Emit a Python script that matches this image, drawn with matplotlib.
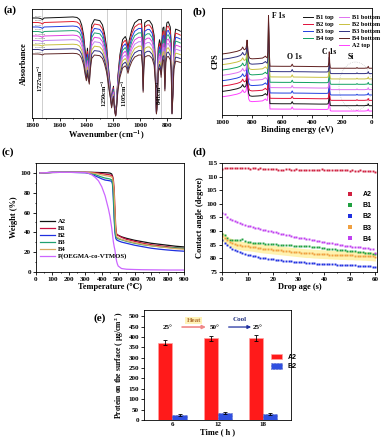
import numpy as np
import matplotlib
matplotlib.use("Agg")
import matplotlib.pyplot as plt
from matplotlib.patches import Ellipse
from matplotlib.lines import Line2D
from matplotlib.ticker import MultipleLocator

plt.rcParams['font.family'] = ['Liberation Serif', 'DejaVu Serif', 'Noto Sans CJK SC']
plt.rcParams['font.weight'] = 'bold'
plt.rcParams['axes.labelweight'] = 'bold'
plt.rcParams['mathtext.fontset'] = 'stix'
plt.rcParams['font.size'] = 5
plt.rcParams['axes.linewidth'] = 0.6
plt.rcParams['xtick.major.width'] = 0.6
plt.rcParams['ytick.major.width'] = 0.6
plt.rcParams['xtick.major.size'] = 2
plt.rcParams['ytick.major.size'] = 2
plt.rcParams['xtick.minor.size'] = 1
plt.rcParams['ytick.minor.size'] = 1
plt.rcParams['xtick.major.pad'] = 1.5
plt.rcParams['ytick.major.pad'] = 1.5

# ---------------- (a) FTIR ----------------
ftir_wn = [1800, 1760, 1740, 1727, 1715, 1600, 1500, 1470, 1450, 1435, 1420, 1410, 1400, 1392,
           1385, 1378, 1370, 1360, 1340, 1300, 1280, 1265, 1250, 1240, 1230, 1220, 1212, 1205,
           1198, 1190, 1182, 1175, 1165, 1150, 1130, 1110, 1100, 1090, 1080, 1060, 1040, 1010,
           990, 982, 977, 972, 965, 945, 930, 910, 895, 885, 878, 872, 865, 855, 848, 843, 838,
           830, 822, 815, 808, 800, 790, 775, 768, 762, 756, 748, 735, 715, 700]
ftir_top = [0.945, 0.945, 0.94, 0.93, 0.945, 0.95, 0.955, 0.95, 0.93, 0.88, 0.78, 0.65, 0.55, 0.66,
            0.56, 0.50, 0.72, 0.88, 0.93, 0.92, 0.88, 0.80, 0.68, 0.55, 0.40, 0.28, 0.15, 0.25,
            0.30, 0.12, 0.03, 0.15, 0.40, 0.60, 0.74, 0.77, 0.74, 0.66, 0.74, 0.84, 0.90, 0.93,
            0.93, 0.75, 0.38, 0.72, 0.90, 0.92, 0.92, 0.88, 0.78, 0.50, 0.06, 0.20, 0.66, 0.74,
            0.70, 0.60, 0.72, 0.85, 0.86, 0.40, 0.82, 0.90, 0.91, 0.86, 0.70, 0.06, 0.30, 0.72,
            0.84, 0.83, 0.82]
ftir_scale = [1.0, 0.955, 0.91, 0.865, 0.82, 0.775, 0.73, 0.685, 0.64]
ftir_colors = ['#111111', '#e02030', '#2040e0', '#20a070', '#e040e0', '#c080f0', '#c8c040', '#303080', '#602828']
ftir_labels = ['B1 top', 'B2 top', 'B3 top', 'B4 top', 'B1 bottom', 'B2 bottom', 'B3 bottom', 'B4 bottom', 'A2 top']
ftir_marks = [1727, 1250, 1105, 841]

# ---------------- (b) XPS ----------------
xps_be = [1000, 950, 900, 880, 870, 862, 855, 848, 840, 836, 833, 830, 826, 822, 815, 800, 760, 730,
          715, 710, 705, 698, 694, 690, 687, 684, 680, 670, 600, 540, 532, 525, 450, 350, 300, 292,
          288, 285, 282, 278, 270, 200, 150, 105, 100, 95, 50, 30, 25, 20, 0]
xps_base = [0.17, 0.18, 0.195, 0.205, 0.215, 0.235, 0.215, 0.21, 0.225, 0.26, 0.30, 0.25, 0.20, 0.15,
            0.13, 0.125, 0.128, 0.132, 0.145, 0.15, 0.14, 0.135, 0.19, 0.53, 0.38, 0.16, 0.056, 0.056,
            0.055, 0.055, 0.075, 0.055, 0.054, 0.052, 0.052, 0.056, 0.09, 0.19, 0.09, 0.04, 0.037,
            0.037, 0.037, 0.037, 0.044, 0.037, 0.037, 0.04, 0.055, 0.037, 0.037]
xps_order = ['A2 top', 'B1 top', 'B2 top', 'B3 top', 'B1 bottom', 'B4 top', 'B2 bottom', 'B3 bottom', 'B4 bottom']
xps_colors = {'B1 top': '#111111', 'B2 top': '#e0103a', 'B3 top': '#2040e0', 'B4 top': '#10a060',
              'B1 bottom': '#e070f0', 'B2 bottom': '#c8c040', 'B3 bottom': '#303080',
              'B4 bottom': '#602020', 'A2 top': '#ff40ff'}
xps_legend = ['B1 top', 'B2 top', 'B3 top', 'B4 top', None, 'B1 bottom', 'B2 bottom', 'B3 bottom', 'B4 bottom', 'A2 top']
xps_step = 0.05

# ---------------- (c) TGA ----------------
tga_T = [25, 100, 200, 300, 320, 340, 360, 380, 400, 420, 440, 450, 460, 465, 470, 475, 480, 485, 490,
         495, 500, 520, 550, 600, 650, 700, 750, 800, 850, 900]
tga = {
    'A2': [100, 100.5, 100.6, 100.6, 100.6, 100.6, 100.5, 100.4, 100.3, 100.2, 100.0, 99.8, 99.0, 97, 90,
           75, 55, 42, 38, 37.5, 37, 35.5, 34, 32, 30.5, 29, 28, 27, 26, 25.3],
    'B1': [100, 100.5, 100.6, 100.6, 100.5, 100.4, 100.2, 99.8, 99.3, 98.8, 98.3, 98.0, 97.5, 96.5, 94,
           85, 65, 45, 38.5, 37.5, 37, 35, 33, 31, 29, 27.5, 26.5, 25.5, 24.5, 24],
    'B2': [100, 100.5, 100.6, 100.2, 99.5, 98.5, 97, 95.5, 94, 92.8, 92.3, 92.0, 91.5, 89, 75, 55, 40,
           34, 32.5, 32, 31.5, 30.2, 29, 27, 25.5, 24, 23, 22.2, 21.5, 21],
    'B3': [100, 100.5, 100.6, 100.4, 100.0, 99.3, 98.3, 97, 95.8, 94.8, 94.2, 93.8, 93.0, 90, 80, 58,
           42, 36, 34.5, 34, 33.5, 32.5, 31, 29, 27.5, 26.5, 25.5, 24.8, 24.3, 24],
    'B4': [100, 100.5, 100.6, 100.5, 100.3, 100.0, 99.5, 98.8, 98.0, 97.3, 96.8, 96.4, 96, 95, 91, 80,
           60, 42, 36, 35, 34.5, 33, 31.5, 29.5, 28, 26.5, 25.5, 24.5, 23.5, 23],
    'P(OEGMA-co-VTMOS)': [100, 100.5, 100.6, 100.3, 99.7, 98.0, 95.5, 92, 86, 77, 64, 56, 45, 38, 31,
                          26, 22, 16, 11, 8, 6, 3.5, 2.8, 2.5, 2.3, 2.2, 2.1, 2.0, 2.0, 2.0],
}
tga_colors = {'A2': '#111111', 'B1': '#c81040', 'B2': '#2030e0', 'B3': '#20a070', 'B4': '#d8a860',
              'P(OEGMA-co-VTMOS)': '#cc66ff'}

# ---------------- (d) contact angle ----------------
ca = {
    'A2': [112.8, 113.0, 113.1, 113.3, 113.3, 113.2, 113.2, 113.0, 113.1, 113.0, 113.0, 112.9, 113.0,
           113.0, 112.9, 113.0, 112.9, 112.9, 112.8, 112.9, 112.8, 112.7, 112.5, 112.3, 112.6, 112.7,
           112.8, 112.6, 112.5, 112.7, 112.6, 112.5, 112.6, 112.6, 112.5, 112.6, 112.6, 112.4, 112.5,
           112.7, 112.6, 112.5, 112.3, 112.5, 112.4, 112.4, 112.3, 112.5, 112.3, 112.3, 112.1, 112.3,
           112.2, 112.2, 112.3, 112.1, 112.0, 112.1, 112.0, 111.9, 111.8],
    'B1': [89.0, 88.7, 87.3, 86.8, 86.6, 86.9, 86.8, 86.9, 87.0, 86.4, 86.0, 85.9, 85.8, 85.7, 85.6,
           85.5, 85.5, 85.4, 85.3, 85.3, 85.2, 85.1, 85.0, 85.0, 84.9, 84.9, 84.8, 84.8, 84.7, 84.6,
           84.5, 84.5, 84.4, 84.4, 84.4, 84.3, 84.2, 84.1, 84.0, 83.9, 83.8, 83.6, 83.4, 83.3, 83.3,
           83.2, 83.1, 83.0, 82.9, 82.8, 82.8, 82.7, 82.6, 82.5, 82.3, 82.2, 82.0, 81.9, 81.8, 81.6, 81.5],
    'B2': [86.8, 85.8, 84.8, 84.0, 83.4, 83.0, 82.6, 82.3, 82.0, 81.7, 81.4, 81.1, 80.9, 80.7, 80.5,
           80.3, 80.1, 80.0, 79.8, 79.7, 79.6, 79.5, 79.4, 79.3, 79.2, 79.1, 79.0, 78.9, 78.8, 78.7,
           78.6, 78.5, 78.5, 78.4, 78.3, 78.3, 78.2, 78.1, 78.1, 78.0, 78.0, 77.9, 77.9, 77.8, 77.8,
           77.7, 77.7, 77.6, 77.6, 77.5, 77.5, 77.4, 77.4, 77.3, 77.3, 77.2, 77.2, 77.1, 77.1, 77.0, 77.0],
    'B3': [88.2, 87.4, 86.6, 86.0, 85.6, 85.3, 85.0, 84.8, 84.6, 84.5, 84.4, 84.3, 84.2, 84.0, 83.9,
           83.7, 83.6, 83.5, 83.4, 83.3, 83.2, 83.1, 83.0, 82.9, 82.8, 82.7, 82.6, 82.5, 82.4, 82.3,
           82.2, 82.1, 82.0, 81.9, 81.9, 81.8, 81.7, 81.7, 81.6, 81.6, 81.5, 81.5, 81.4, 81.4, 81.3,
           81.3, 81.2, 81.2, 81.2, 81.1, 81.1, 81.1, 81.0, 81.0, 81.0, 80.9, 80.9, 80.8, 80.8, 80.7, 80.6],
    'B4': [96.8, 96.2, 95.2, 94.5, 94.0, 93.6, 93.3, 93.0, 92.6, 92.3, 92.0, 91.8, 91.5, 91.3, 91.0,
           90.7, 90.5, 90.3, 90.1, 89.9, 89.7, 89.5, 89.3, 89.1, 88.9, 88.7, 88.5, 88.3, 88.0, 87.8,
           87.6, 87.5, 87.4, 87.2, 87.0, 86.9, 86.7, 86.5, 86.3, 86.1, 86.0, 85.8, 85.6, 85.5, 85.3,
           85.1, 85.0, 84.9, 84.7, 84.5, 84.4, 84.3, 84.2, 84.1, 84.0, 83.9, 83.8, 83.7, 83.6, 83.3, 81.8],
}
ca_colors = {'A2': '#d02040', 'B1': '#20a040', 'B2': '#2030e0', 'B3': '#f0a040', 'B4': '#c040f0'}
ca_b3_sd = 1.6

# ---------------- (e) protein ----------------
prot_time = ['6', '12', '18']
prot_A2 = [372, 393, 397]
prot_A2_err = [12, 12, 14]
prot_B2 = [22, 32, 30]
prot_B2_err = [5, 5, 5]

W, H = 381, 438
fig = plt.figure(figsize=(W / 100, H / 100), dpi=100)


def rect(l, t, r, b):
    return [l / W, 1 - b / H, (r - l) / W, (b - t) / H]


# ---- (a)
ax = fig.add_axes(rect(32, 9, 181, 118))
for s, c, lab in zip(ftir_scale, ftir_colors, ftir_labels):
    ax.plot(ftir_wn, np.array(ftir_top) * s, color=c, lw=0.7)
    ax.text(1785, ftir_top[0] * s + 0.012, lab, fontsize=1.6, color='#888888', va='bottom')
for wn in ftir_marks:
    ax.axvline(wn, color='#bbbbbb', lw=0.5, zorder=0)
ax.text(1745, 0.38, r'1727cm$^{-1}$', rotation=90, fontsize=4.5, ha='center', va='center')
ax.text(1268, 0.24, r'1250cm$^{-1}$', rotation=90, fontsize=4.5, ha='center', va='center')
ax.text(1120, 0.24, r'1105cm$^{-1}$', rotation=90, fontsize=4.5, ha='center', va='center')
ax.text(855, 0.24, r'841cm$^{-1}$', rotation=90, fontsize=4.5, ha='center', va='center')
ax.set_xlim(1805, 695)
ax.set_ylim(0, 1.03)
ax.set_yticks([])
ax.set_xticks([1800, 1600, 1400, 1200, 1000, 800])
ax.xaxis.set_minor_locator(MultipleLocator(100))
ax.set_xlabel(r'Wavenumber (cm$^{-1}$)', fontsize=6, labelpad=1)
ax.set_ylabel('Absorbance', fontsize=6, labelpad=3)

# ---- (b)
ax = fig.add_axes(rect(222, 8, 372, 115))
handles = {}
for i, name in enumerate(xps_order):
    h, = ax.plot(xps_be, np.array(xps_base) + i * xps_step, color=xps_colors[name], lw=0.7)
    handles[name] = h
blank = Line2D([], [], color='none')
leg_h = [handles[n] if n else blank for n in xps_legend]
leg_l = [n if n else '' for n in xps_legend]
ax.legend(leg_h, leg_l, ncol=2, loc='upper left', bbox_to_anchor=(0.5, 0.99), frameon=False,
          fontsize=4.5, handlelength=1.6, handletextpad=0.5, columnspacing=0.8, labelspacing=0.25)
ax.add_patch(Ellipse((110, 0.27), 220, 0.45, fill=False, ls=':', lw=0.5, color='#bbbbbb'))
ax.text(668, 0.91, 'F 1s', fontsize=5.5)
ax.text(565, 0.52, 'O 1s', fontsize=5.5)
ax.text(330, 0.57, 'C 1s', fontsize=5.5)
ax.text(160, 0.52, 'Si', fontsize=5.5)
ax.set_xlim(1000, 0)
ax.set_ylim(0, 1.0)
ax.set_yticks([])
ax.set_xticks([1000, 800, 600, 400, 200, 0])
ax.xaxis.set_minor_locator(MultipleLocator(100))
ax.set_xlabel('Binding energy (eV)', fontsize=6, labelpad=1)
ax.set_ylabel('CPS', fontsize=6, labelpad=2)

# ---- (c)
ax = fig.add_axes(rect(36, 163, 184, 272))
for name, vals in tga.items():
    ax.plot(tga_T, vals, color=tga_colors[name], lw=0.9, label=name)
ax.set_xlim(0, 900)
ax.set_ylim(0, 110)
ax.set_xticks(range(0, 901, 100))
ax.set_yticks(range(0, 101, 20))
ax.xaxis.set_minor_locator(MultipleLocator(50))
ax.yaxis.set_minor_locator(MultipleLocator(10))
ax.legend(loc='upper left', bbox_to_anchor=(0.0, 0.53), frameon=False, fontsize=4.8,
          handlelength=2.2, handletextpad=0.5, labelspacing=0.2, borderaxespad=0.2)
ax.set_xlabel('Temperature (℃)', fontsize=6, labelpad=1)
ax.set_ylabel('Weight (%)', fontsize=6, labelpad=2)

# ---- (d)
ax = fig.add_axes(rect(222, 163, 377, 272))
b3 = np.array(ca['B3'])
tb3 = np.arange(len(b3))
ax.fill_between(tb3, b3 - ca_b3_sd, b3 + ca_b3_sd, color='#fff2b0', lw=0, zorder=0)
for name, vals in ca.items():
    t = np.arange(len(vals))
    ax.plot(t, vals, 's', ms=1.4, color=ca_colors[name], mew=0, label=name, ls='none')
ax.set_xlim(0, 60.6)
ax.set_ylim(75, 115)
ax.set_xticks(range(0, 61, 10))
ax.set_yticks(range(75, 116, 5))
ax.xaxis.set_minor_locator(MultipleLocator(5))
leg = ax.legend(loc='upper left', bbox_to_anchor=(0.74, 0.8), frameon=False, markerscale=1.8,
                prop={'family': 'Liberation Sans', 'weight': 'bold', 'size': 5},
                handletextpad=0.8, labelspacing=0.6)
ax.set_xlabel('Drop age (s)', fontsize=6, labelpad=1)
ax.set_ylabel('Contact angle (degree)', fontsize=6, labelpad=2)

# ---- (e)
ax = fig.add_axes(rect(144, 310, 291, 420))
x = np.arange(len(prot_time))
w = 0.31
ax.bar(x - w / 2, prot_A2, w, yerr=prot_A2_err, color='#ff1a1a', edgecolor='#ffa0a0', lw=0.5,
       error_kw=dict(elinewidth=0.6, capsize=1.2, capthick=0.6), label='A2')
ax.bar(x + w / 2, prot_B2, w, yerr=prot_B2_err, color='#3050e0', edgecolor='#2030a0', lw=0.4, ls=':',
       error_kw=dict(elinewidth=0.6, capsize=1.2, capthick=0.6), label='B2')
ax.set_xlim(-0.63, 2.62)
ax.set_ylim(0, 530)
ax.set_xticks(x)
ax.set_xticklabels(prot_time)
ax.set_yticks(range(0, 501, 50))
ax.tick_params(axis='x', length=0)
ax.legend(loc='upper left', bbox_to_anchor=(0.82, 0.66), frameon=False,
          prop={'family': 'Liberation Sans', 'weight': 'bold', 'size': 5},
          handlelength=1.6, handleheight=0.9, labelspacing=0.3)
ax.text(-0.1, 448, '25°', fontsize=5, ha='center', va='center')
ax.text(0.93, 448, '50°', fontsize=5, ha='center', va='center')
ax.text(1.88, 448, '25°', fontsize=5, ha='center', va='center')
ax.annotate('', xy=(0.80, 448), xytext=(0.15, 448),
            arrowprops=dict(arrowstyle='-|>', color='#f08888', lw=1.2, mutation_scale=5))
ax.annotate('', xy=(1.80, 448), xytext=(1.18, 448),
            arrowprops=dict(arrowstyle='-|>', color='#2030a0', lw=0.9, mutation_scale=5))
ax.text(0.47, 478, 'Heat', fontsize=5, color='#b07030', ha='center', va='center',
        bbox=dict(boxstyle='square,pad=0.15', fc='#fff3b8', ec='none'))
ax.text(1.48, 482, 'Cool', fontsize=5, color='#203080', ha='center', va='center')
ax.set_xlabel('Time ( h )', fontsize=6, labelpad=1)
ax.set_ylabel('Protein on the surface ( μg/cm$^2$ )', fontsize=5.5, labelpad=2)

# panel letters
for lab, px, py in [('(a)', 3, 10), ('(b)', 193, 12), ('(c)', 2, 152), ('(d)', 193, 152), ('(e)', 93, 318)]:
    fig.text(px / W, 1 - py / H, lab, fontsize=8, fontweight='bold', va='center', ha='left')

fig.savefig('out.png', dpi=100)
